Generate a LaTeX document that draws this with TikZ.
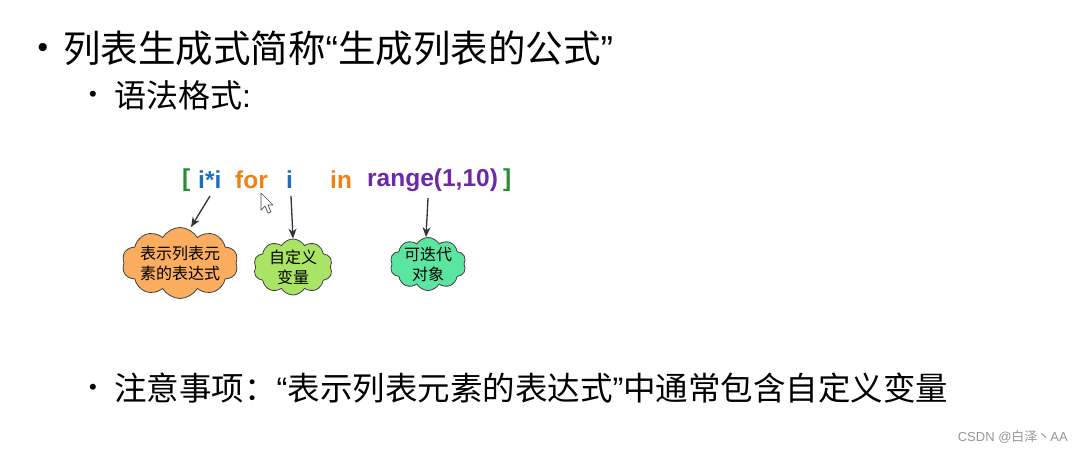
\documentclass[tikz,border=0pt]{standalone}
\usepackage{fontspec}
\setmainfont{Liberation Sans}
\newfontfamily\cjk{Noto Sans CJK SC}
\newfontfamily\lat{Liberation Sans}
\usetikzlibrary{shapes.symbols,calc,arrows.meta}
\definecolor{cgreen}{RGB}{40,140,50}
\definecolor{cblue}{RGB}{30,110,190}
\definecolor{corange}{RGB}{240,130,20}
\definecolor{cpurple}{RGB}{110,40,170}
\definecolor{fillA}{RGB}{250,172,95}
\definecolor{fillB}{RGB}{170,228,100}
\definecolor{fillC}{RGB}{90,230,160}
\definecolor{wm}{RGB}{150,150,150}
\newcommand{\myLq}{{\lat\char"201C}}
\newcommand{\myRq}{{\lat\char"201D}}
\tikzset{
  txt/.style={anchor=west,inner sep=0pt,text=black},
  code/.style={anchor=west,inner sep=0pt,font=\lat\fontsize{24.5}{27}\selectfont\bfseries},
  bul/.style={inner sep=0pt,text=black},
  arr/.style={draw=black!80,line width=1.3pt,-{Stealth[length=10pt,width=8pt]}},
  cl/.style={cloud,cloud puffs=10,cloud puff arc=120,cloud ignores aspect,draw=black!75,line width=0.8pt,inner sep=0pt},
  cltxt/.style={inner sep=0pt,align=center,font=\cjk\fontsize{16}{20}\selectfont}
}
\begin{document}
\begin{tikzpicture}[x=1pt,y=-1pt]
\useasboundingbox (0,0) rectangle (1083,453);
\fill[white] (0,0) rectangle (1083,453);
% bullets
\node[bul,font=\lat\fontsize{30}{30}\selectfont] (b1) at (43,50) {\textbullet};
\node[txt,font=\cjk\fontsize{37.5}{40}\selectfont] (t1) at (63,48) {列表生成式简称\myLq 生成列表的公式\myRq};
\node[bul,font=\lat\fontsize{22}{22}\selectfont] (b2) at (93,96) {\textbullet};
\node[txt,font=\cjk\fontsize{32}{34}\selectfont] (t2) at (114,95) {语法格式{\lat :}};
\node[bul,font=\lat\fontsize{22}{22}\selectfont] (b3) at (93,389) {\textbullet};
\node[txt,font=\cjk\fontsize{32.5}{36}\selectfont] (t3) at (114,388) {注意事项：\myLq 表示列表元素的表达式\myRq 中通常包含自定义变量};
% code line
\node[code,text=cgreen] (lb) at (182,180) {[};
\node[code,text=cblue] (ii) at (198,180) {i*i};
\node[code,text=corange] (for) at (235,180) {for};
\node[code,text=cblue] (iv) at (286,180) {i};
\node[code,text=corange] (in) at (330,180) {in};
\node[code,text=cpurple] (rng) at (367,180) {range(1,10)};
\node[code,text=cgreen] (rb) at (503,180) {]};
% clouds
\node[cl,fill=fillA,minimum width=116pt,minimum height=71pt] (c1) at (180,263) {};
\node[cltxt] (c1t) at (c1.center) {表示列表元\\素的表达式};
\node[cl,fill=fillB,minimum width=79pt,minimum height=56pt] (c2) at (293,267) {};
\node[cltxt] (c2t) at (c2.center) {自定义\\变量};
\node[cl,fill=fillC,minimum width=76pt,minimum height=53pt] (c3) at (428,264) {};
\node[cltxt] (c3t) at (c3.center) {可迭代\\对象};
% arrows
\coordinate (s1) at (210,196);
\coordinate (s2) at (291,196);
\coordinate (s3) at (428,198);
\draw[arr] (s1) -- ($(c1.north)+(11,0)$);
\draw[arr] (s2) -- (c2.north);
\draw[arr] (s3) -- ($(c3.north)+(-2,0)$);
% mouse cursor
\draw[fill=white,draw=black!70,line width=0.7pt,line join=round] (261,193) -- (261,210) -- (265,206) -- (268,213) -- (271,212) -- (268,205) -- (273,205) -- cycle;
% watermark
\node[anchor=east,inner sep=0pt,text=wm,font=\lat\fontsize{13}{15}\selectfont] (wm) at (1068,437) {CSDN @{\cjk 白泽丶}AA};
\end{tikzpicture}
\end{document}
